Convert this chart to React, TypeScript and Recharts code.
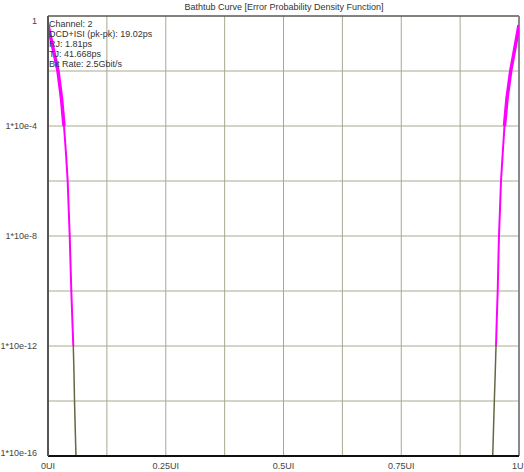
import React from 'react';
import { LineChart, Line, XAxis, YAxis, CartesianGrid, ReferenceLine } from 'recharts';

// log10 of error probability at each reading
const exponents = [-0.33, -1, -2, -3, -4, -5, -6, -7, -8, -9, -10, -11, -12, -13, -14, -15, -16];
// horizontal position (UI) of the left edge curve at each exponent
const leftUI = [0.0, 0.0085, 0.0212, 0.0287, 0.034, 0.0382, 0.0418, 0.0439, 0.0461, 0.0478, 0.0495, 0.0516, 0.0537, 0.0552, 0.0563, 0.0578, 0.0594];
// horizontal position (UI) of the right edge curve at each exponent
const rightUI = [1.0, 0.993, 0.9824, 0.9745, 0.9692, 0.9654, 0.9618, 0.9597, 0.9575, 0.9561, 0.9548, 0.9529, 0.9512, 0.9495, 0.9476, 0.9459, 0.9442];

const xTicks = [0, 0.125, 0.25, 0.375, 0.5, 0.625, 0.75, 0.875, 1];
const xTickLabels: Record<string, string> = { '0': '0UI', '0.25': '0.25UI', '0.5': '0.5UI', '0.75': '0.75UI', '1': '1UI' };
const yTickExps = [0, -2, -4, -6, -8, -10, -12, -14, -16];
const yTickLabels: Record<string, string> = { '0': '1', '-4': '1*10e-4', '-8': '1*10e-8', '-12': '1*10e-12', '-16': '1*10e-16' };

const title = 'Bathtub Curve [Error Probability Density Function]';
const infoLines = ['Channel: 2', 'DCD+ISI (pk-pk): 19.02ps', 'RJ: 1.81ps', 'TJ: 41.668ps', 'Bit Rate: 2.5Gbit/s'];

const build = (xs: number[], from: number, to: number) =>
  exponents.slice(from, to + 1).map((e, i) => ({ x: xs[from + i], y: Math.pow(10, e) }));

const leftThick = build(leftUI, 0, 4);
const leftThin = build(leftUI, 4, 12);
const leftTail = build(leftUI, 12, 16);
const rightThick = build(rightUI, 0, 4);
const rightThin = build(rightUI, 4, 12);
const rightTail = build(rightUI, 12, 16);

const FONT = '"Liberation Sans", Arial, sans-serif';

const YTick = (props: any) => {
  const { x, y, payload } = props;
  const e = Math.round(Math.log10(payload.value));
  const label = yTickLabels[String(e)];
  if (!label) return null;
  let dy = 3;
  if (e === 0) dy = 8;
  if (e === -16) dy = 0;
  return (
    <text x={x - 3} y={y + dy} textAnchor="end" fontSize={9} fontFamily={FONT} fill="#444">
      {label}
    </text>
  );
};

const XTick = (props: any) => {
  const { x, y, payload } = props;
  const label = xTickLabels[String(payload.value)];
  if (!label) return null;
  return (
    <text x={x} y={y + 5} textAnchor="middle" fontSize={9} fontFamily={FONT} fill="#444">
      {label}
    </text>
  );
};

export default function App() {
  return (
    <div style={{ position: 'absolute', left: 0, top: 0, width: 524, height: 472, background: '#fff' }}>
      <LineChart width={524} height={472} margin={{ top: 16, right: 5, bottom: 0, left: 0 }}>
        <CartesianGrid stroke="#a8a890" strokeWidth={1} />
        <XAxis
          type="number"
          dataKey="x"
          domain={[0, 1]}
          ticks={xTicks}
          interval={0}
          tick={<XTick />}
          tickLine={false}
          axisLine={{ stroke: '#111', strokeWidth: 2 }}
          height={16}
          allowDataOverflow
        />
        <YAxis
          type="number"
          dataKey="y"
          scale="log"
          domain={[1e-16, 1]}
          ticks={yTickExps.map((e) => Math.pow(10, e))}
          interval={0}
          tick={<YTick />}
          tickLine={false}
          axisLine={{ stroke: '#555', strokeWidth: 2 }}
          width={48}
          allowDataOverflow
        />
        <ReferenceLine y={1} stroke="#333" strokeWidth={1} />
        <ReferenceLine x={1} stroke="#888" strokeWidth={2} />
        <Line data={leftTail} dataKey="y" stroke="#666644" strokeWidth={1.5} dot={false} isAnimationActive={false} type="linear" />
        <Line data={rightTail} dataKey="y" stroke="#666644" strokeWidth={1.5} dot={false} isAnimationActive={false} type="linear" />
        <Line data={leftThin} dataKey="y" stroke="#ff00ff" strokeWidth={2} dot={false} isAnimationActive={false} type="linear" />
        <Line data={rightThin} dataKey="y" stroke="#ff00ff" strokeWidth={2} dot={false} isAnimationActive={false} type="linear" />
        <Line data={leftThick} dataKey="y" stroke="#ff00ff" strokeWidth={3.5} dot={false} isAnimationActive={false} type="linear" />
        <Line data={rightThick} dataKey="y" stroke="#ff00ff" strokeWidth={3.5} dot={false} isAnimationActive={false} type="linear" />
      </LineChart>
      <div style={{ position: 'absolute', left: 0, width: 568, top: 2, textAlign: 'center', fontFamily: FONT, fontSize: 9, color: '#333', lineHeight: '10px' }}>
        {title}
      </div>
      <div style={{ position: 'absolute', left: 49, top: 19, fontFamily: FONT, fontSize: 9, color: '#333', lineHeight: '10px', whiteSpace: 'pre' }}>
        {infoLines.map((l) => (
          <div key={l}>{l}</div>
        ))}
      </div>
    </div>
  );
}
